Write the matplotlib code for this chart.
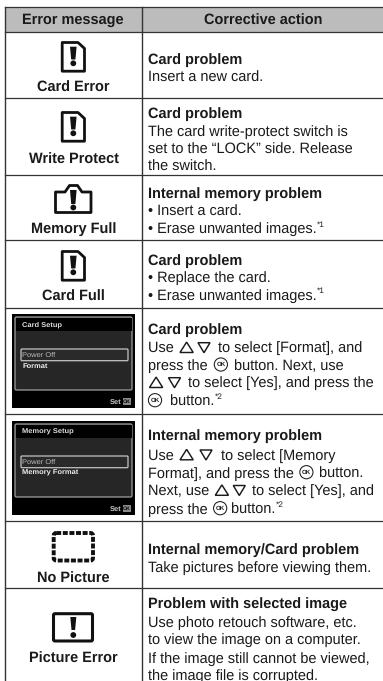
import matplotlib
matplotlib.use("Agg")
import matplotlib.pyplot as plt
from matplotlib.patches import Polygon, Circle, Rectangle, FancyBboxPatch

plt.rcParams['font.family'] = ['Liberation Sans', 'DejaVu Sans']
plt.rcParams['text.hinting'] = 'no_hinting'
plt.rcParams['text.hinting_factor'] = 8

W, H = 383, 681
LINE = '#333333'
TXT = '#1a1a1a'
HEAD = '#bcbcbc'
FS = 10.45

headers = ['Error message', 'Corrective action']
row_lines = [32, 98, 175, 240, 308, 414, 521, 588]
messages = ['Card Error', 'Write Protect', 'Memory Full', 'Card Full', None, None, 'No Picture', 'Picture Error']
message_y = [86, 158, 227, 295, None, None, 577, 657]

# token markup: ^ up triangle, v down triangle, O ok button,
# S* superscript, numbers are extra spacing
titles = ['Card problem', 'Card problem', 'Internal memory problem', 'Card problem', 'Card problem',
          'Internal memory problem', 'Internal memory/Card problem', 'Problem with selected image']
title_y = [58, 112, 192, 259, 328, 434, 548, 603]
bodies = [
    [(76, ['Insert a new card.'])],
    [(130.7, ['The card write-protect switch is']), (148, ['set to the \u201cLOCK\u201d side. Release']), (165.7, ['the switch.'])],
    [(210, ['\u2022 Insert a card.']), (227.7, ['\u2022 Erase unwanted images.', 'S*1'])],
    [(276.7, ['\u2022 Replace the card.']), (294, ['\u2022 Erase unwanted images.', 'S*1'])],
    [(346.7, ['Use ', 1.7, '^', 3, 'v', 2, ' to select [Format], and']),
     (364.3, ['press the ', 2.7, 'O', 2.3, ' button. Next, use']),
     (381.7, [1, '^', 4, 'v', 1.5, ' to select [Yes], and press the']),
     (400, [0.5, 'O', 4, ' button.', 'S*2'])],
    [(454, ['Use ', 1.7, '^', 5, 'v', 3.5, ' to select [Memory']),
     (472, ['Format], and press the ', 2, 'O', 2, ' button.']),
     (489.5, ['Next, use ', 1.5, '^', 3, 'v', 1.5, ' to select [Yes], and']),
     (508, ['press the ', 2, 'O', ' button.', 'S*2'])],
    [(566, ['Take pictures before viewing them.'])],
    [(621, ['Use photo retouch software, etc.']), (638, ['to view the image on a computer.']),
     (657, ['If the image still cannot be viewed,']), (674, ['the image file is corrupted.'])],
]
screens = [('Card Setup', 'Format', 314), ('Memory Setup', 'Memory Format', 421)]

fig = plt.figure(figsize=(W / 100, H / 100), dpi=100, facecolor='white')
ax = fig.add_axes([0, 0, 1, 1])
ax.set_xlim(0, W)
ax.set_ylim(H, 0)
ax.axis('off')

# table frame
ax.add_patch(Rectangle((5, 7), W - 5, 25, fc=HEAD, ec='none'))
ax.plot([5, W], [7, 7], color=LINE, lw=0.9)
for y in row_lines:
    ax.plot([5, W], [y, y], color=LINE, lw=0.9)
ax.plot([5, 5], [7, H], color=LINE, lw=1.0)
ax.plot([141.5, 141.5], [7, H], color=LINE, lw=1.0)
ax.text(73, 20.5, headers[0], ha='center', va='center', fontsize=FS, fontweight='bold', color=TXT)
ax.text(263, 20.5, headers[1], ha='center', va='center', fontsize=FS, fontweight='bold', color=TXT)

IC = '#111111'


def exclam(cx, top, bottom, dot, hw=3.3):
    ax.add_patch(Polygon([(cx - hw, top), (cx + hw, top), (cx + hw - 1.2, bottom), (cx - hw + 1.2, bottom)], fc=IC, ec='none'))
    ax.add_patch(Circle((cx, dot), 2.9, fc=IC, ec='none'))


def card_icon(top):
    x0, x1 = 62.2, 84.5
    ax.add_patch(Polygon([(x0, top + 0.5), (x1 - 6.5, top + 0.5), (x1, top + 6.5), (x1, top + 29.2), (x0, top + 29.2)],
                         closed=True, fc='none', ec=IC, lw=2.0, joinstyle='round'))
    exclam(73.3, top + 4.7, top + 17.5, top + 21.3)


card_icon(42)
card_icon(112)
card_icon(251)
# camera icon
ax.add_patch(Polygon([(55.5, 192), (65, 192), (69.5, 185.5), (77.5, 185.5), (82, 192), (91, 192), (91, 212.5), (55.5, 212.5)],
                     closed=True, fc='none', ec=IC, lw=2.0, joinstyle='round'))
exclam(73.3, 190, 204, 207.5)
# no-picture icon
ax.add_patch(FancyBboxPatch((53.7, 533), 39.3, 27.5, boxstyle='round,pad=0,rounding_size=2.5',
                            fc='none', ec=IC, lw=2.8, linestyle=(0, (1.28, 0.42))))
# picture error icon
ax.add_patch(FancyBboxPatch((53.5, 613.7), 39, 27.3, boxstyle='round,pad=0,rounding_size=1.5', fc='none', ec=IC, lw=2.2))
exclam(73.3, 617, 630, 635, hw=3)

# labels
for m, y in zip(messages, message_y):
    if m:
        ax.text(73.5, y, m, ha='center', va='center_baseline', fontsize=FS, fontweight='bold', color=TXT)

# camera screens
for title, item, y0 in screens:
    ax.add_patch(Rectangle((12, y0), 123, 94, fc='black', ec='none'))
    ax.add_patch(FancyBboxPatch((15, y0 + 3), 117, 73, boxstyle='round,pad=0,rounding_size=1.5', fc='#262626', ec='#a0a0a0', lw=0.9))
    ax.add_patch(Rectangle((15.5, y0 + 3.5), 116, 13.5, fc='black', ec='none'))
    ax.add_patch(FancyBboxPatch((21, y0 + 35), 107, 11.7, boxstyle='round,pad=0,rounding_size=1', fc='#2a2a2a', ec='#c4c4c4', lw=0.9))
    ax.text(22, y0 + 10.5, title, ha='left', va='center', fontsize=5.4, fontweight='bold', color='#dddddd')
    ax.text(22.5, y0 + 41, 'Power Off', ha='left', va='center', fontsize=5.4, color='#bbbbbb')
    ax.text(22.5, y0 + 52, item, ha='left', va='center', fontsize=5.4, fontweight='bold', color='#eeeeee')
    ax.text(110, y0 + 88, 'Set', ha='left', va='center', fontsize=5.4, fontweight='bold', color='#cccccc')
    ax.add_patch(Rectangle((122.5, y0 + 84), 8.5, 7, fc='#8a8a8a', ec='none'))
    ax.text(126.7, y0 + 87.6, 'OK', ha='center', va='center', fontsize=3.8, fontweight='bold', color='black')

# right column text
renderer = fig.canvas.get_renderer()


def draw_line(y, parts):
    x = 147.5
    for p in parts:
        if isinstance(p, (int, float)):
            x += p
        elif p == '^':
            ax.add_patch(Polygon([(x + 1, y + 5.8), (x + 14.2, y + 5.8), (x + 7.6, y - 4.6)], closed=True, fc='none', ec=TXT, lw=1.05))
            x += 15
        elif p == 'v':
            ax.add_patch(Polygon([(x + 1, y - 4), (x + 13, y - 4), (x + 7, y + 6)], closed=True, fc='none', ec=TXT, lw=1.05))
            x += 14.5
        elif p == 'O':
            ax.add_patch(Circle((x + 7, y + 0.2), 6.6, fc='white', ec=TXT, lw=0.75))
            ax.text(x + 7, y + 0.2, 'OK', ha='center', va='center', fontsize=4.4, fontweight='bold', color=TXT)
            x += 14
        elif p.startswith('S'):
            ax.text(x + 0.5, y - 3.5, p[1:], ha='left', va='center_baseline', fontsize=6, color=TXT)
        else:
            t = ax.text(x, y, p, ha='left', va='center_baseline', fontsize=FS, color=TXT)
            x += t.get_window_extent(renderer).width


for title, ty, body in zip(titles, title_y, bodies):
    ax.text(147.5, ty, title, ha='left', va='center_baseline', fontsize=FS, fontweight='bold', color=TXT)
    for y, parts in body:
        draw_line(y, parts)

fig.savefig('out.png', dpi=100)
